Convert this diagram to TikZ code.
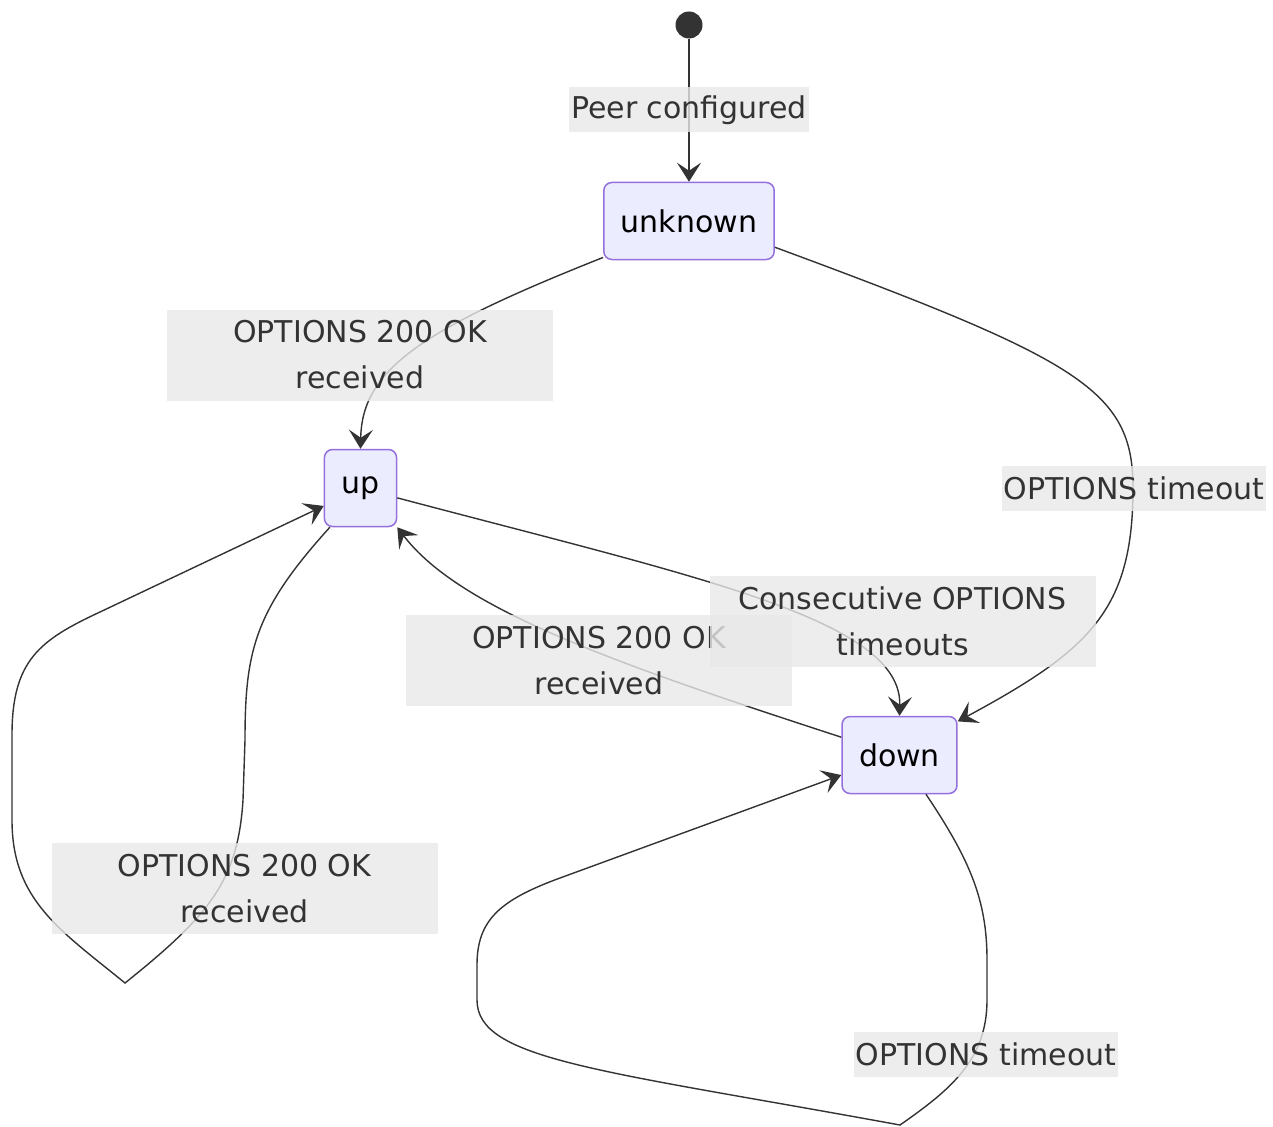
\documentclass[tikz,border=0pt]{standalone}
\usepackage{fontspec}
\setmainfont{DejaVu Sans}
\usetikzlibrary{arrows.meta}
\definecolor{stateFill}{HTML}{ECECFF}
\definecolor{stateLine}{HTML}{9370DB}
\definecolor{edgeGray} {HTML}{333333}
\definecolor{labelBg}  {HTML}{E8E8E8}

\begin{document}
\begin{tikzpicture}[x=1pt,y=-1pt,
  state/.style={draw=stateLine,fill=stateFill,line width=1.5pt,rounded corners=8pt,
    minimum height=77pt,inner xsep=17pt,text=black,font=\fontsize{30}{46}\selectfont},
  trans/.style={draw=edgeGray,line width=1.4pt,-{Stealth[length=19pt,width=24pt,inset=8pt]}},
  lbl/.style={fill=labelBg,fill opacity=0.8,text opacity=1,text=edgeGray,inner xsep=2pt,
    inner ysep=0pt,minimum height=45pt,align=center,font=\fontsize{30}{46}\selectfont},
  wide/.style={minimum width=386pt,minimum height=91pt}]
\useasboundingbox (0,0) rectangle (1273,1126);

% states
\node[circle,fill=edgeGray,minimum size=27pt,inner sep=0pt] (start) at (689,25) {};
\node[state] (unknown) at (689,221) {unknown};
\node[state] (up) at (360.5,488) {up};
\node[state] (down) at (899.5,755) {down};
\coordinate (upLoopTip) at (125,983);
\coordinate (downLoopTip) at (900,1125);

% transitions
\draw[trans] (start) -- (unknown);
\draw[trans] (unknown.203) .. controls (420,330) and (362,370) .. (up.north);
\draw[trans] (unknown.343) .. controls (1080,360) and (1133,390) .. (1133,488)
  .. controls (1133,610) and (1090,650) .. (down.30);
\draw[trans] (up.345) .. controls (700,578) and (902,620) .. (down.north);
\draw[trans] (down.163) .. controls (620,665) and (460,610) .. (up.south east);
\draw[trans] (up.232) .. controls (255,610) and (245,650) .. (245,740) -- (243,800)
  .. controls (238,880) and (210,915) .. (upLoopTip)
  .. controls (60,930) and (12,900) .. (12,820) -- (12,735)
  .. controls (12,660) and (40,640) .. (100,612) -- (up.206);
\draw[trans] (down.304) .. controls (970,860) and (987,900) .. (987,960) -- (987,1000)
  .. controls (987,1060) and (950,1090) .. (downLoopTip)
  .. controls (600,1070) and (477,1060) .. (477,1000) -- (477,965)
  .. controls (477,920) and (500,900) .. (560,878) -- (down.199);

% labels
\node[lbl] (lPeer) at (689,110) {Peer configured};
\node[lbl,wide] (lUp) at (360,355) {OPTIONS 200 OK\\received};
\node[lbl] (lTimeout) at (1134,488.5) {OPTIONS timeout};
\node[lbl,wide] (lBack) at (599,660.5) {OPTIONS 200 OK\\received};
\node[lbl,wide] (lConsec) at (902.5,621.5) {Consecutive OPTIONS\\timeouts};
\node[lbl,wide] (lUpLoop) at (244.5,888.5) {OPTIONS 200 OK\\received};
\node[lbl] (lDownLoop) at (986,1054.5) {OPTIONS timeout};
\end{tikzpicture}
\end{document}
